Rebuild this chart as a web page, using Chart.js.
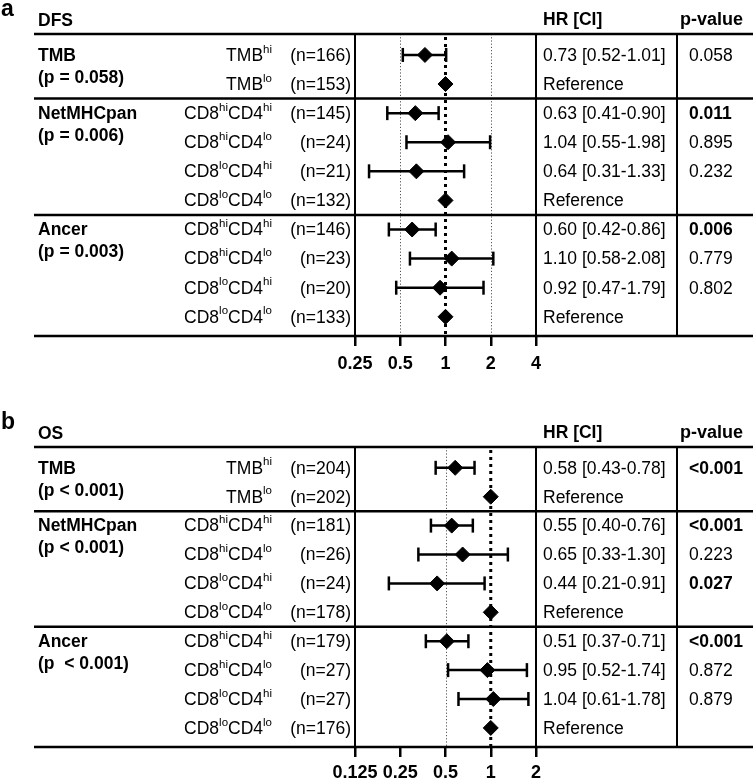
<!DOCTYPE html>
<html>
<head>
<meta charset="utf-8">
<script src="https://cdn.jsdelivr.net/npm/chart.js@4.4.1/dist/chart.umd.min.js"></script>
<style>
  body { margin: 0; background: #fff; }
  .panel { position: absolute; left: 0; }
</style>
</head>
<body>
<div class="panel" style="top:0"><canvas id="chartDFS" width="754" height="386"></canvas></div>
<div class="panel" style="top:386px"><canvas id="chartOS" width="754" height="395"></canvas></div>
<script>
// ---- data -----------------------------------------------------------------
const GROUPS = ["TMB", "NetMHCpan", "Ancer"];
const GROUP_START = [0, 2, 6];
const ROW_LABELS = ["TMB^hi", "TMB^lo",
  "CD8^hiCD4^hi", "CD8^hiCD4^lo", "CD8^loCD4^hi", "CD8^loCD4^lo",
  "CD8^hiCD4^hi", "CD8^hiCD4^lo", "CD8^loCD4^hi", "CD8^loCD4^lo"];

// DFS (panel a)
const dfsN = [166, 153, 145, 24, 21, 132, 146, 23, 20, 133];
const dfsHR = [0.73, 1, 0.63, 1.04, 0.64, 1, 0.60, 1.10, 0.92, 1];
const dfsLo = [0.52, null, 0.41, 0.55, 0.31, null, 0.42, 0.58, 0.47, null];
const dfsHi = [1.01, null, 0.90, 1.98, 1.33, null, 0.86, 2.08, 1.79, null];
const dfsP = ["0.058", "", "0.011", "0.895", "0.232", "", "0.006", "0.779", "0.802", ""];
const dfsGroupP = ["(p = 0.058)", "(p = 0.006)", "(p = 0.003)"];
const dfsTicks = [0.25, 0.5, 1, 2, 4];
const dfsGuides = [0.5, 2];

// OS (panel b)
const osN = [204, 202, 181, 26, 24, 178, 179, 27, 27, 176];
const osHR = [0.58, 1, 0.55, 0.65, 0.44, 1, 0.51, 0.95, 1.04, 1];
const osLo = [0.43, null, 0.40, 0.33, 0.21, null, 0.37, 0.52, 0.61, null];
const osHi = [0.78, null, 0.76, 1.30, 0.91, null, 0.71, 1.74, 1.78, null];
const osP = ["<0.001", "", "<0.001", "0.223", "0.027", "", "<0.001", "0.872", "0.879", ""];
const osGroupP = ["(p < 0.001)", "(p < 0.001)", "(p  < 0.001)"];
const osTicks = [0.125, 0.25, 0.5, 1, 2];
const osGuides = [0.5];

// ---- drawing --------------------------------------------------------------
const FONT = '"Liberation Sans", Arial, sans-serif';
const FS = 17.5;

function isSig(p) {
  return p.startsWith("<") || (p !== "" && parseFloat(p) < 0.05);
}

// draws "CD8^hiCD4^lo" right-aligned at x, superscripts raised
function drawSupLabel(ctx, text, xRight, y) {
  const parts = text.split(/\^(hi|lo)/);
  const pieces = parts.map((t, k) => ({ t, sup: k % 2 === 1 }));
  let w = 0;
  pieces.forEach(p => {
    ctx.font = (p.sup ? 11.5 : FS) + "px " + FONT;
    p.w = ctx.measureText(p.t).width;
    w += p.w;
  });
  let x = xRight - w;
  ctx.textAlign = "left";
  pieces.forEach(p => {
    ctx.font = (p.sup ? 11.5 : FS) + "px " + FONT;
    ctx.fillText(p.t, x, p.sup ? y - 6.5 : y);
    x += p.w;
  });
}

const forestTable = {
  id: "forestTable",
  beforeDatasetsDraw(chart, args, o) {
    const ctx = chart.ctx, a = chart.chartArea;
    const xs = chart.scales.x, ys = chart.scales.y;
    const pCol = 677;
    ctx.save();

    // guide lines
    ctx.setLineDash([1.2, 2]);
    ctx.strokeStyle = "#555";
    ctx.lineWidth = 1;
    o.guides.forEach(v => {
      const x = Math.round(xs.getPixelForValue(v)) + 0.5;
      ctx.beginPath(); ctx.moveTo(x, a.top); ctx.lineTo(x, a.bottom); ctx.stroke();
    });
    ctx.setLineDash([3, 4]);
    ctx.strokeStyle = "#000";
    ctx.lineWidth = 3;
    const x1 = xs.getPixelForValue(1);
    ctx.beginPath(); ctx.moveTo(x1, a.top + 3); ctx.lineTo(x1, a.bottom); ctx.stroke();
    ctx.setLineDash([]);

    // table rules
    ctx.strokeStyle = "#000";
    ctx.lineWidth = 2.5;
    const hLines = [a.top, ys.getPixelForValue(1.5), ys.getPixelForValue(5.5), a.bottom];
    hLines.forEach(y => {
      ctx.beginPath(); ctx.moveTo(34, y); ctx.lineTo(753, y); ctx.stroke();
    });
    ctx.lineWidth = 2;
    [a.left, a.right, pCol].forEach(x => {
      ctx.beginPath(); ctx.moveTo(x, a.top); ctx.lineTo(x, a.bottom); ctx.stroke();
    });

    // headings
    ctx.fillStyle = "#000";
    ctx.textBaseline = "middle";
    ctx.textAlign = "left";
    ctx.font = "bold 23px " + FONT;
    ctx.fillText(o.letter, 1, a.top - 24);
    ctx.font = "bold " + FS + "px " + FONT;
    ctx.fillText(o.title, 38, a.top - 13);
    ctx.fillText("HR [CI]", 543, a.top - 14);
    ctx.font = "bold 18px " + FONT;
    ctx.fillText("p-value", 680, a.top - 14);

    // group labels
    GROUPS.forEach((g, k) => {
      const y = ys.getPixelForValue(GROUP_START[k]);
      ctx.font = "bold " + FS + "px " + FONT;
      ctx.fillText(g, 38, y + 1);
      ctx.fillText(o.groupP[k], 38, y + 23);
    });

    // rows
    ROW_LABELS.forEach((lab, i) => {
      const y = ys.getPixelForValue(i) + 1;
      drawSupLabel(ctx, lab, 272, y);
      ctx.font = FS + "px " + FONT;
      ctx.textAlign = "right";
      ctx.fillText("(n=" + o.n[i] + ")", 351, y);
      ctx.textAlign = "left";
      const txt = o.lo[i] == null ? "Reference"
        : o.hr[i].toFixed(2) + " [" + o.lo[i].toFixed(2) + "-" + o.hi[i].toFixed(2) + "]";
      ctx.fillText(txt, 543, y);
      ctx.font = (isSig(o.p[i]) ? "bold " : "") + FS + "px " + FONT;
      ctx.fillText(o.p[i], 689, y);
    });
    ctx.restore();
  }
};

function buildForest(id, letter, title, n, hr, lo, hi, p, groupP, ticks, guides, top, bottomLine, tickPad, axisH) {
  const canvas = document.getElementById(id);
  const datasets = [];
  lo.forEach((l, i) => {
    if (l == null) return;
    datasets.push({
      data: [{ x: l, y: i }, { x: hi[i], y: i }],
      showLine: true,
      borderColor: "#000", borderWidth: 2.5,
      pointStyle: "line", pointRotation: 90, pointRadius: 7,
      pointBorderColor: "#000", pointBorderWidth: 2.5
    });
  });
  datasets.push({
    data: hr.map((v, i) => ({ x: v, y: i })),
    pointStyle: "rectRot", pointRadius: 7.5,
    backgroundColor: "#000", borderColor: "#000", borderWidth: 1
  });

  return new Chart(canvas, {
    type: "scatter",
    data: { datasets },
    options: {
      responsive: false, animation: false,
      layout: { padding: { left: 355, right: 754 - 536, top, bottom: canvas.height - bottomLine - axisH } },
      plugins: {
        legend: { display: false }, tooltip: { enabled: false },
        forestTable: { letter, title, n, hr, lo, hi, p, groupP, guides }
      },
      scales: {
        x: {
          type: "logarithmic", min: ticks[0], max: ticks[ticks.length - 1],
          afterBuildTicks: s => { s.ticks = ticks.map(v => ({ value: v })); },
          afterFit: s => { s.height = axisH; },
          ticks: {
            callback: v => String(v), autoSkip: false, maxRotation: 0, padding: tickPad,
            color: "#000", font: { family: FONT, size: 18, weight: "bold" }
          },
          grid: { drawOnChartArea: false, tickLength: 10, color: "#000", lineWidth: 2.5 },
          border: { display: false }
        },
        y: { type: "linear", min: -0.72, max: 9.66, reverse: true, display: false }
      }
    },
    plugins: [forestTable]
  });
}

buildForest("chartDFS", "a", "DFS", dfsN, dfsHR, dfsLo, dfsHi, dfsP, dfsGroupP, dfsTicks, dfsGuides, 34, 336, 7, 42);
buildForest("chartOS", "b", "OS", osN, osHR, osLo, osHi, osP, osGroupP, osTicks, osGuides, 61, 361, 5, 34);
</script>
</body>
</html>
